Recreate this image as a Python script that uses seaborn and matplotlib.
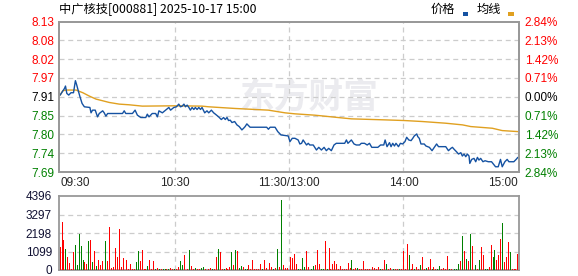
import matplotlib
matplotlib.use("Agg")
import matplotlib.pyplot as plt
from matplotlib.patches import Rectangle
import numpy as np
import pandas as pd
import seaborn as sns

# ---------------- data ----------------
title = "中广核技[000881] 2025-10-17 15:00"
prev_close = 7.91
max_pct = 2.84
price_labels = ["7.69", "7.74", "7.80", "7.85", "7.91", "7.97", "8.02", "8.08", "8.13"]
pct_labels = ["2.84%", "2.13%", "1.42%", "0.71%", "0.00%", "0.71%", "1.42%", "2.13%", "2.84%"]
time_ticks = [0, 60, 120, 180, 240]
time_labels = ["09:30", "10:30", "11:30/13:00", "14:00", "15:00"]
vol_ticks = [0, 1099, 2198, 3297, 4396]

price_min = [0, 2.3, 2.8, 3.5, 4.5, 5.7, 7.0, 8.0, 8.7, 9.4, 10.4, 11.5, 12.7, 15.6, 16.2, 17.0, 18.4, 19.6,
             20.5, 22.3, 23.1, 24.0, 24.9, 32.7, 33.6, 34.4, 37.9, 39.3, 40.5, 42.3, 44.9, 45.7, 46.6, 48.3,
             50.1, 51.0, 51.8, 53.6, 55.3, 57.0, 57.9, 59.6, 61.0, 62.2, 63.1, 64.0, 64.9, 65.7, 66.6, 67.5,
             68.3, 69.2, 70.1, 70.9, 71.8, 72.7, 73.6, 74.4, 75.8, 77.0, 77.9, 79.3, 80.5, 81.4, 83.1, 84.5,
             85.7, 86.6, 87.5, 88.3, 89.2, 90.1, 91.5, 92.7, 93.9, 95.3, 96.2, 97.0, 97.9, 99.6, 108.3, 109.2,
             110.1, 112.7, 114.1, 115.8, 119.6, 120.5, 121.7, 123.1, 124.8, 125.7, 126.6, 127.4, 129.2, 130.1,
             130.9, 132.7, 134.4, 135.6, 137.0, 138.4, 139.6, 140.8, 142.2, 143.6, 144.8, 149.2, 150.1, 150.9,
             152.7, 154.1, 155.3, 157.0, 157.9, 159.6, 161.0, 162.2, 163.4, 166.6, 168.0, 169.7, 170.4, 171.4,
             172.7, 173.5, 174.4, 175.3, 176.1, 177.4, 178.4, 179.6, 180.8, 181.7, 182.8, 184.0, 184.9, 185.7,
             187.0, 187.5, 188.3, 189.2, 190.9, 191.8, 193.6, 195.0, 196.2, 197.4, 198.4, 202.2, 203.6, 204.9,
             205.7, 206.6, 207.8, 208.9, 210.1, 210.9, 211.8, 212.7, 213.5, 214.4, 214.8, 215.8, 217.0, 217.9,
             218.8, 219.6, 220.5, 221.7, 222.8, 224.5, 226.2, 226.9, 228.3, 229.7, 230.9, 231.8, 233.2, 234.4,
             235.3, 237.9, 239.1, 240.0]
price_val = [7.915, 7.935, 7.942, 7.920, 7.915, 7.922, 7.922, 7.958, 7.945, 7.930, 7.910, 7.890, 7.880, 7.878,
             7.862, 7.870, 7.870, 7.850, 7.860, 7.868, 7.862, 7.852, 7.860, 7.860, 7.868, 7.860, 7.860, 7.870,
             7.855, 7.848, 7.848, 7.858, 7.850, 7.860, 7.860, 7.850, 7.868, 7.862, 7.870, 7.878, 7.870, 7.878,
             7.880, 7.888, 7.880, 7.882, 7.888, 7.880, 7.885, 7.878, 7.870, 7.878, 7.872, 7.878, 7.872, 7.878,
             7.872, 7.878, 7.862, 7.868, 7.862, 7.870, 7.862, 7.858, 7.850, 7.842, 7.848, 7.842, 7.848, 7.839,
             7.840, 7.833, 7.836, 7.826, 7.821, 7.811, 7.816, 7.821, 7.829, 7.819, 7.819, 7.813, 7.819, 7.819,
             7.806, 7.796, 7.793, 7.776, 7.786, 7.786, 7.781, 7.769, 7.771, 7.781, 7.766, 7.771, 7.766, 7.766,
             7.751, 7.759, 7.751, 7.759, 7.749, 7.756, 7.749, 7.766, 7.771, 7.771, 7.781, 7.771, 7.781, 7.769,
             7.766, 7.766, 7.771, 7.771, 7.766, 7.771, 7.759, 7.759, 7.766, 7.766, 7.781, 7.761, 7.773, 7.761,
             7.771, 7.763, 7.771, 7.761, 7.771, 7.769, 7.776, 7.789, 7.781, 7.779, 7.786, 7.793, 7.799, 7.791,
             7.786, 7.769, 7.769, 7.763, 7.759, 7.749, 7.759, 7.769, 7.761, 7.761, 7.749, 7.756, 7.759, 7.753,
             7.746, 7.739, 7.743, 7.733, 7.739, 7.731, 7.739, 7.733, 7.711, 7.723, 7.726, 7.716, 7.729, 7.721,
             7.726, 7.716, 7.719, 7.716, 7.716, 7.711, 7.701, 7.701, 7.723, 7.701, 7.716, 7.723, 7.716, 7.716,
             7.723, 7.729]

avg_min = [0, 1.4, 3.1, 8.4, 9.2, 11.9, 15.3, 18.8, 22.3, 25.7, 31.0, 36.2, 43.1, 60.5, 74.4, 77.9, 91.8,
           109.2, 117.9, 123.1, 133.5, 140.5, 152.7, 170.1, 180.5, 190.0, 202.2, 211.0, 215.3, 226.6, 231.8, 240.0]
avg_val = [7.915, 7.928, 7.930, 7.930, 7.928, 7.922, 7.912, 7.903, 7.898, 7.893, 7.888, 7.886, 7.882, 7.883,
           7.882, 7.880, 7.875, 7.870, 7.862, 7.859, 7.855, 7.851, 7.844, 7.841, 7.839, 7.836, 7.831, 7.826,
           7.821, 7.816, 7.809, 7.806]

vol_h1 = [1340, 2870, 1770, 1220, 790, 430, 80, 1040, 1465, 325, 2140, 1400, 610, 490, 370, 1710, 1770, 490,
          1100, 245, 610, 305, 550, 730, 1710, 550, 2560, 120, 180, 1280, 790, 2440, 180, 730, 245, 610, 60,
          370, 60, 60, 490, 1120, 550, 1160, 60, 60, 245, 610, 60, 550, 60, 120, 60, 60, 60, 60, 60, 60, 120, 60]
dir_h1 = "rrrgrrrrgg" "gggrrgrgrg" "rrrggrrrrr" "rrrrgrrrrr" "ggrrrrgrrr" "grgrggrgrr"
vol_h2 = [60, 60, 180, 550, 305, 915, 790, 60, 1160, 245, 60, 120, 60, 60, 120, 180, 60, 60, 60, 120, 60, 60,
          790, 1220, 1040, 60, 60, 120, 60, 180, 1040, 305, 1160, 1100, 120, 245, 180, 60, 60, 305, 60, 610,
          60, 60, 60, 370, 60, 610, 120, 245, 430, 180, 60, 120, 1220, 180, 4150, 305, 120, 120, 2320]
dir_h2 = "grrggrgrgr" "rgrrggrrrr" "grrgrrgrrr" "grgrggrggr" "rrrrrrgrrg" "rrgrgrgrrr" "g"
vol_h3 = [790, 730, 975, 370, 60, 60, 730, 180, 1100, 180, 430, 60, 245, 305, 1160, 370, 60, 60, 1710, 60,
          1280, 60, 370, 550, 370, 60, 245, 60, 60, 60, 430, 120, 610, 60, 120, 120, 60, 60, 550, 60, 60, 60,
          305, 180, 120, 60, 180, 60, 60, 610, 370, 60, 120, 60, 60, 60, 60, 60, 60, 1100, 60]
dir_h3 = "rrrrgrggrr" "rggrrrggrg" "rrrrrrrrrr" "rrgrrgrrrr" "rrgrrrrgrr" "grrggrrgrr" "r"
vol_h4 = [1525, 915, 60, 370, 60, 180, 60, 305, 790, 60, 120, 180, 670, 60, 180, 60, 60, 245, 60, 120, 60,
          855, 60, 60, 975, 60, 60, 370, 550, 2015, 1100, 670, 550, 2140, 1400, 790, 305, 60, 610, 1340, 915,
          60, 60, 180, 1465, 790, 1160, 610, 915, 1830, 2810, 490, 790, 1650, 1040, 60, 30, 30, 975]
dir_h4 = "rgrrgrrgrr" "grrgrrggrr" "rrgrrgggrg" "rgrgrrgrgr" "rggrrggrrr" "grrrgr" "rrr"

# ---------------- style ----------------
sns.set_style("white")
plt.rcParams["font.family"] = ["Liberation Sans", "Noto Sans CJK SC", "DejaVu Sans"]
CJK = ["Noto Sans CJK SC", "DejaVu Sans"]
UP, DOWN, FLAT = "#ff0000", "#008000", "#000000"
PRICE_C, AVG_C = "#1552a2", "#e0a020"
GRID_C, SPINE_C = "#cccccc", "#999999"
W, H = 578, 276

fig = plt.figure(figsize=(W / 100, H / 100), dpi=100)
fig.patch.set_facecolor("white")


def box(l, t, r, b):
    return [l / W, 1 - b / H, (r - l) / W, (b - t) / H]


ax = fig.add_axes(box(59, 21.5, 519, 172))
axv = fig.add_axes(box(59, 196, 519, 270))

price_ticks = [prev_close * (1 + p / 100) for p in np.linspace(-max_pct, max_pct, 9)]

# watermark
ax.text(0.545, 0.50, "东方财富", transform=ax.transAxes, ha="center", va="center",
        fontsize=25, fontweight="bold", color="#ebebef", family=CJK, zorder=0.5)

# grid
for yv in price_ticks[1:-1]:
    ax.axhline(yv, color=GRID_C, lw=0.9, ls=(0, (4, 3)), zorder=1)
for xv in time_ticks[1:-1]:
    ax.axvline(xv, color=GRID_C, lw=0.9, ls=(0, (4, 3)), zorder=1)
    axv.axvline(xv, color=GRID_C, lw=0.9, ls=(0, (4, 3)), zorder=1)
for yv in vol_ticks[1:-1]:
    axv.axhline(yv, color=GRID_C, lw=0.9, ls=(0, (4, 3)), zorder=1)

# lines
sns.lineplot(x=avg_min, y=avg_val, ax=ax, color=AVG_C, lw=1.0, zorder=3)
sns.lineplot(x=price_min, y=price_val, ax=ax, color=PRICE_C, lw=1.0, zorder=4)

ax.set_xlim(-0.6, 240.6)
ax.set_ylim(price_ticks[0], price_ticks[-1])
ax.set_yticks(price_ticks)
ax.set_yticklabels(price_labels)
ax.set_xticks(time_ticks)
ax.set_xticklabels(time_labels)
ax.tick_params(axis="both", length=0, labelsize=8.5)
ax.tick_params(axis="y", pad=3.5)
ax.tick_params(axis="x", pad=3.5)
for i, lab in enumerate(ax.get_yticklabels()):
    lab.set_color(UP if i > 4 else (DOWN if i < 4 else FLAT))
xl = ax.get_xticklabels()
xl[0].set_ha("left")
xl[-1].set_ha("right")
ax.set_xlabel("")
ax.set_ylabel("")

ax2 = ax.twinx()
ax2.set_ylim(ax.get_ylim())
ax2.set_yticks(price_ticks)
ax2.set_yticklabels(pct_labels)
ax2.tick_params(axis="y", length=0, labelsize=8.5, pad=4)
for i, lab in enumerate(ax2.get_yticklabels()):
    lab.set_color(UP if i > 4 else (DOWN if i < 4 else FLAT))

# volume
volume = vol_h1 + vol_h2 + vol_h3 + vol_h4
vol_dir = list(dir_h1 + dir_h2 + dir_h3 + dir_h4)
df_vol = pd.DataFrame({"minute": np.arange(len(volume)), "vol": volume, "dir": vol_dir})
for key, col in (("r", UP), ("g", DOWN)):
    sub = df_vol[df_vol["dir"] == key]
    sns.barplot(data=sub, x="minute", y="vol", color=col, native_scale=True,
                width=0.5 * (1.0 / sub["minute"].diff().min()), errorbar=None,
                saturation=1, linewidth=0, ax=axv, zorder=3)
for p in axv.patches:
    p.set_antialiased(False)
    p.set_edgecolor("none")
axv.set_xlim(-0.6, 240.6)
axv.set_ylim(0, vol_ticks[-1])
axv.set_yticks(vol_ticks)
axv.set_yticklabels([str(v) for v in vol_ticks])
axv.set_xticks([])
axv.tick_params(axis="y", length=0, labelsize=8.5, pad=5, colors="#111133")
axv.set_xlabel("")
axv.set_ylabel("")

for a in (ax, ax2, axv):
    for s in a.spines.values():
        s.set_color(SPINE_C)
        s.set_linewidth(1.3)
        s.set_visible(True)

# title and legend
fig.text(59 / W, 1 - 9.5 / H, title, ha="left", va="center", fontsize=8.8, family=CJK, color="#000000")
fig.text(431 / W, 1 - 9.5 / H, "价格", ha="left", va="center", fontsize=8.8, family=CJK, color="#000000")
fig.text(477 / W, 1 - 9.5 / H, "均线", ha="left", va="center", fontsize=8.8, family=CJK, color="#000000")
fig.add_artist(Rectangle((463 / W, 1 - 15.5 / H), 5 / W, 3 / H, transform=fig.transFigure,
                         facecolor=PRICE_C, edgecolor="none"))
fig.add_artist(Rectangle((508 / W, 1 - 15.5 / H), 6 / W, 3 / H, transform=fig.transFigure,
                         facecolor=AVG_C, edgecolor="none"))

fig.savefig("out.png", dpi=100, facecolor="white")
